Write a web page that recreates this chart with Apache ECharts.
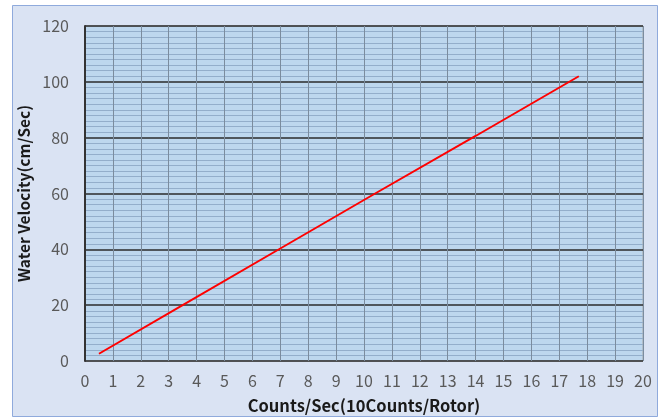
<!DOCTYPE html>
<html>
<head>
<meta charset="utf-8">
<script src="https://cdn.jsdelivr.net/npm/echarts@6/dist/echarts.min.js"></script>
<style>
html, body { margin: 0; padding: 0; background: #fff; }
#main { width: 668px; height: 419px; }
</style>
</head>
<body>
<div id="main"></div>
<script>
var countsPerSec = [0.5, 3.5, 7.0, 10.4, 14.0, 17.7];
var velocity = [2.6, 20.0, 40.3, 60.0, 80.6, 102.0];
var xTicks = [0, 20, 1];
var yTicks = [0, 120, 20];

var chart = echarts.init(document.getElementById('main'));
var pts = countsPerSec.map(function (x, i) { return [x, velocity[i]]; });
var font = '"Noto Sans CJK JP", "Noto Sans", sans-serif';

var option = {
  animation: false,
  graphic: [{
    type: 'rect',
    z: -10,
    shape: { x: 12.5, y: 5.5, width: 645, height: 411 },
    style: { fill: '#dae3f3', stroke: '#8faadc', lineWidth: 1 }
  }],
  grid: {
    left: 85, right: 25, top: 26, bottom: 58,
    outerBoundsMode: 'none',
    containLabel: false,
    show: true,
    backgroundColor: '#bdd7ee',
    borderColor: '#a6a6a6',
    borderWidth: 1
  },
  xAxis: {
    type: 'value',
    min: xTicks[0], max: xTicks[1], interval: xTicks[2],
    name: 'Counts/Sec(10Counts/Rotor)',
    nameLocation: 'middle',
    nameGap: 36,
    nameTextStyle: { fontFamily: font, fontWeight: 'bold', fontSize: 16.5, color: '#1a1a1a' },
    axisLine: { show: false },
    axisTick: { show: false },
    axisLabel: { fontFamily: font, fontSize: 16, color: '#595959', margin: 12 },
    splitLine: { show: true, lineStyle: { color: '#7b8c9e', width: 1 } }
  },
  yAxis: {
    type: 'value',
    min: yTicks[0], max: yTicks[1], interval: yTicks[2],
    name: 'Water Velocity(cm/Sec)',
    nameLocation: 'middle',
    nameGap: 49,
    nameTextStyle: { fontFamily: font, fontWeight: 'bold', fontSize: 15.5, color: '#1a1a1a' },
    axisLine: { show: true, lineStyle: { color: '#333', width: 2 } },
    axisTick: { show: false },
    axisLabel: { fontFamily: font, fontSize: 16, color: '#595959', margin: 16 },
    splitLine: { show: true, lineStyle: { color: '#2b2b2b', width: 1.5 } },
    minorTick: { show: false, splitNumber: 10 },
    minorSplitLine: { show: true, lineStyle: { color: '#93aecb', width: 1 } }
  },
  series: [{
    type: 'line',
    data: pts,
    symbol: 'none',
    lineStyle: { color: '#ff0000', width: 2 },
    z: 10
  }]
};
chart.setOption(option);
</script>
</body>
</html>
